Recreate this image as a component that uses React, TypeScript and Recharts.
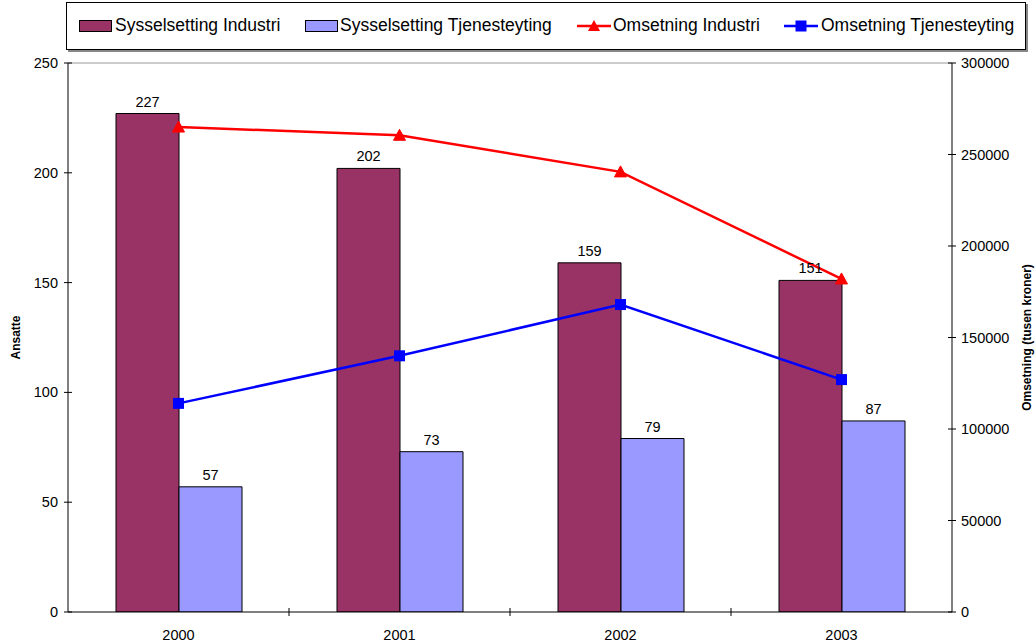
import React from "react";
import {
  ComposedChart,
  Bar,
  Line,
  XAxis,
  YAxis,
  LabelList,
  ReferenceLine,
} from "recharts";

const years = ["2000", "2001", "2002", "2003"];
const sysIndustri = [227, 202, 159, 151];
const sysTjeneste = [57, 73, 79, 87];
const omsIndustri = [265000, 260500, 240500, 182000];
const omsTjeneste = [114000, 140000, 168000, 127000];
const leftTicks = [0, 50, 100, 150, 200, 250];
const rightTicks = [0, 50000, 100000, 150000, 200000, 250000, 300000];

const data = years.map((y, i) => ({
  year: y,
  sysIndustri: sysIndustri[i],
  sysTjeneste: sysTjeneste[i],
  omsIndustri: omsIndustri[i],
  omsTjeneste: omsTjeneste[i],
}));

const FONT = "'Liberation Sans', Arial, sans-serif";
const W = 1036;
const H = 644;
const M = { top: 63, right: 0, bottom: 0, left: 0 };
const LEFT_W = 68;
const RIGHT_W = 84;
const X_H = 32;
const TICK_FS = 14.5;

const LeftTick = (props: any) => {
  const { x, y, payload } = props;
  return (
    <g>
      <line x1={x - 4} x2={x + 4} y1={y} y2={y} stroke="#000" />
      <text x={x - 10} y={y} dy={5} textAnchor="end" fontSize={TICK_FS} fontFamily={FONT} fill="#000">
        {payload.value}
      </text>
    </g>
  );
};

const RightTick = (props: any) => {
  const { x, y, payload } = props;
  return (
    <g>
      <line x1={x - 4} x2={x + 4} y1={y} y2={y} stroke="#000" />
      <text x={x + 9} y={y} dy={5} textAnchor="start" fontSize={TICK_FS} fontFamily={FONT} fill="#000">
        {payload.value}
      </text>
    </g>
  );
};

const plotW = W - LEFT_W - RIGHT_W - M.left - M.right;
const halfBand = plotW / years.length / 2;

const BottomTick = (props: any) => {
  const { x, y, payload, index } = props;
  return (
    <g>
      {index < years.length - 1 && (
        <line x1={x + halfBand} x2={x + halfBand} y1={y - 4} y2={y + 4} stroke="#000" />
      )}
      <text x={x} y={y + 28} textAnchor="middle" fontSize={TICK_FS} fontFamily={FONT} fill="#000">
        {payload.value}
      </text>
    </g>
  );
};

const Triangle = (props: any) => {
  const { cx, cy, index } = props;
  if (cx == null || cy == null) return <g key={`t${index}`} />;
  return (
    <polygon
      key={`t${index}`}
      points={`${cx},${cy - 6} ${cx - 6},${cy + 5} ${cx + 6},${cy + 5}`}
      fill="#FF0000"
      stroke="#FF0000"
    />
  );
};

const Square = (props: any) => {
  const { cx, cy, index } = props;
  if (cx == null || cy == null) return <g key={`s${index}`} />;
  return <rect key={`s${index}`} x={cx - 5.5} y={cy - 5.5} width={11} height={11} fill="#0000FF" />;
};

const legendItems = [
  { name: "Sysselsetting Industri", kind: "bar", color: "#993366", iconLeft: 12, textLeft: 48 },
  { name: "Sysselsetting Tjenesteyting", kind: "bar", color: "#9999FF", iconLeft: 238, textLeft: 273 },
  { name: "Omsetning Industri", kind: "tri", color: "#FF0000", iconLeft: 510, textLeft: 546 },
  { name: "Omsetning Tjenesteyting", kind: "sq", color: "#0000FF", iconLeft: 717, textLeft: 754 },
];

const LegendBox = () => (
  <div
    style={{
      position: "absolute",
      left: 66,
      top: 2,
      boxSizing: "border-box",
      width: 960,
      height: 48,
      border: "1px solid #000",
      boxShadow: "2px 2px 0 #888",
      background: "#fff",
      fontFamily: FONT,
      fontSize: 17.5,
      color: "#000",
    }}
  >
    {legendItems.map((it) => (
      <React.Fragment key={it.name}>
        <svg width={36} height={16} style={{ position: "absolute", left: it.iconLeft, top: 15 }}>
          {it.kind === "bar" && (
            <rect x={0.5} y={2.5} width={32} height={11} fill={it.color} stroke="#000" />
          )}
          {it.kind === "tri" && (
            <g>
              <line x1={0} x2={34} y1={8} y2={8} stroke={it.color} strokeWidth={2.5} />
              <polygon points="17,2 11,13 23,13" fill={it.color} />
            </g>
          )}
          {it.kind === "sq" && (
            <g>
              <line x1={0} x2={34} y1={8} y2={8} stroke={it.color} strokeWidth={2.5} />
              <rect x={11.5} y={2.5} width={11} height={11} fill={it.color} />
            </g>
          )}
        </svg>
        <span style={{ position: "absolute", left: it.textLeft, top: 12, whiteSpace: "nowrap", lineHeight: "20px" }}>
          {it.name}
        </span>
      </React.Fragment>
    ))}
  </div>
);

export default function App() {
  return (
    <div style={{ position: "absolute", left: 0, top: 0, width: W, height: H, background: "#fff" }}>
      <ComposedChart
        width={W}
        height={H}
        data={data}
        margin={M}
        barGap={0}
        style={{ fontFamily: FONT }}
      >
        <XAxis
          dataKey="year"
          height={X_H}
          tickSize={0}
          tickMargin={0}
          tickLine={false}
          tick={<BottomTick />}
          axisLine={{ stroke: "#000" }}
          interval={0}
        />
        <YAxis
          yAxisId="left"
          orientation="left"
          width={LEFT_W}
          domain={[0, 250]}
          ticks={leftTicks}
          tickSize={0}
          tickMargin={0}
          tickLine={false}
          tick={<LeftTick />}
          axisLine={{ stroke: "#000" }}
          allowDataOverflow
          label={{
            value: "Ansatte",
            angle: -90,
            position: "insideLeft",
            offset: 0,
            dx: 16,
            style: { fontFamily: FONT, fontSize: 12, fontWeight: "bold", fill: "#000", textAnchor: "middle" },
          }}
        />
        <YAxis
          yAxisId="right"
          orientation="right"
          width={RIGHT_W}
          domain={[0, 300000]}
          ticks={rightTicks}
          tickSize={0}
          tickMargin={0}
          tickLine={false}
          tick={<RightTick />}
          axisLine={{ stroke: "#000" }}
          allowDataOverflow
          label={{
            value: "Omsetning (tusen kroner)",
            angle: -90,
            position: "insideRight",
            offset: 0,
            dx: -9,
            style: { fontFamily: FONT, fontSize: 12, fontWeight: "bold", fill: "#000", textAnchor: "middle" },
          }}
        />
        <ReferenceLine yAxisId="left" y={250} stroke="#999" />
        <Bar
          yAxisId="left"
          dataKey="sysIndustri"
          barSize={63}
          fill="#993366"
          stroke="#000"
          strokeWidth={1}
          isAnimationActive={false}
        >
          <LabelList dataKey="sysIndustri" position="top" offset={7} style={{ fontFamily: FONT, fontSize: TICK_FS, fill: "#000" }} />
        </Bar>
        <Bar
          yAxisId="left"
          dataKey="sysTjeneste"
          barSize={63}
          fill="#9999FF"
          stroke="#000"
          strokeWidth={1}
          isAnimationActive={false}
        >
          <LabelList dataKey="sysTjeneste" position="top" offset={7} style={{ fontFamily: FONT, fontSize: TICK_FS, fill: "#000" }} />
        </Bar>
        <Line
          yAxisId="right"
          dataKey="omsIndustri"
          stroke="#FF0000"
          strokeWidth={2.5}
          dot={<Triangle />}
          activeDot={false}
          isAnimationActive={false}
        />
        <Line
          yAxisId="right"
          dataKey="omsTjeneste"
          stroke="#0000FF"
          strokeWidth={2.5}
          dot={<Square />}
          activeDot={false}
          isAnimationActive={false}
        />
      </ComposedChart>
      <LegendBox />
    </div>
  );
}
